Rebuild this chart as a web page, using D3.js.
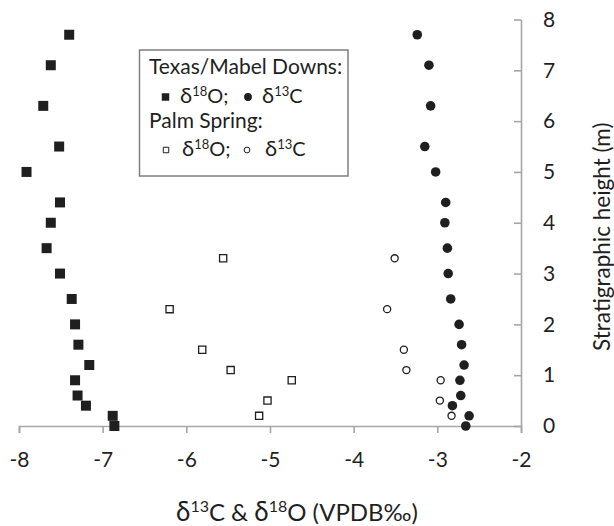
<!DOCTYPE html>
<html>
<head>
<meta charset="utf-8">
<script src="https://cdn.jsdelivr.net/npm/d3@7"></script>
<style>
  body { margin: 0; background: #fff; }
  text { font-family: Lato, "Noto Sans", sans-serif; fill: #1f1f1f; }
</style>
</head>
<body>
<div id="my_isotopechart"></div>
<script>
// Texas / Mabel Downs section
var texasHeight = [7.7, 7.1, 6.3, 5.5, 5.0, 4.4, 4.0, 3.5, 3.0, 2.5, 2.0, 1.6, 1.2, 0.9, 0.6, 0.4, 0.2, 0];
var texasO18 = [-7.40, -7.62, -7.71, -7.52, -7.91, -7.51, -7.62, -7.67, -7.51, -7.37, -7.33, -7.29, -7.16, -7.33, -7.30, -7.20, -6.88, -6.86];
var texasC13 = [-3.24, -3.10, -3.08, -3.15, -3.02, -2.90, -2.91, -2.88, -2.87, -2.84, -2.74, -2.71, -2.68, -2.73, -2.72, -2.82, -2.62, -2.66];

// Palm Spring section
var palmHeight = [3.3, 2.3, 1.5, 1.1, 0.9, 0.5, 0.2];
var palmO18 = [-5.56, -6.20, -5.81, -5.47, -4.74, -5.03, -5.13];
var palmC13 = [-3.51, -3.60, -3.40, -3.37, -2.96, -2.97, -2.83];

var xTicks = [-8, -7, -6, -5, -4, -3, -2];
var yTicks = [0, 1, 2, 3, 4, 5, 6, 7, 8];

var margin = {top: 19.5, right: 93, bottom: 100, left: 19},
    width = 614 - margin.left - margin.right,
    height = 526 - margin.top - margin.bottom;

var axisColor = "#a6a6a6";
var ink = "#1f1f1f";

var svg = d3.select("#my_isotopechart")
  .append("svg")
  .attr("width", width + margin.left + margin.right)
  .attr("height", height + margin.top + margin.bottom)
  .append("g")
  .attr("transform", "translate(" + margin.left + "," + margin.top + ")");

var x = d3.scaleLinear()
  .domain([-8, -2])
  .range([0, width]);

var y = d3.scaleLinear()
  .domain([0, 8])
  .range([height, 0]);

// plain hyphen minus like the original, not the unicode minus
var plain = function(d) { return String(d); };

// X axis (ticks hang below the line)
var gx = svg.append("g")
  .attr("transform", "translate(0," + height + ")")
  .call(d3.axisBottom(x).tickValues(xTicks).tickSize(7).tickPadding(19).tickFormat(plain));
gx.select(".domain").attr("stroke", axisColor).attr("stroke-width", 1.6);
gx.selectAll(".tick line").attr("stroke", axisColor).attr("stroke-width", 1.6);
gx.selectAll(".tick text")
  .attr("font-size", "21px")
  .attr("font-family", "Lato, sans-serif")
  .attr("fill", ink);

// Y axis on the right, ticks pointing into the plot
var gy = svg.append("g")
  .attr("transform", "translate(" + width + ",0)")
  .call(d3.axisRight(y).tickValues(yTicks).tickSizeInner(-7).tickSizeOuter(0).tickPadding(22).tickFormat(plain));
gy.select(".domain").attr("stroke", axisColor).attr("stroke-width", 1.6);
gy.selectAll(".tick line").attr("stroke", axisColor).attr("stroke-width", 1.6);
gy.selectAll(".tick text")
  .attr("font-size", "21px")
  .attr("font-family", "Lato, sans-serif")
  .attr("fill", ink);

// axis titles
var xTitle = svg.append("text")
  .attr("x", 278)
  .attr("y", height + 95)
  .attr("text-anchor", "middle")
  .attr("font-size", "24px");
xTitle.append("tspan").attr("font-size", "26px").text("δ");
xTitle.append("tspan").attr("font-size", "16px").attr("dy", -9).text("13");
xTitle.append("tspan").attr("dy", 9).text("C & ");
xTitle.append("tspan").attr("font-size", "26px").text("δ");
xTitle.append("tspan").attr("font-size", "16px").attr("dy", -9).text("18");
xTitle.append("tspan").attr("dy", 9).text("O (VPDB‰)");

svg.append("text")
  .attr("transform", "translate(" + (width + 89) + "," + (height / 2 + 14) + ") rotate(-90)")
  .attr("text-anchor", "middle")
  .attr("font-size", "22.5px")
  .text("Stratigraphic height (m)");

// points
var symSquare = d3.symbol().type(d3.symbolSquare);
var symCircle = d3.symbol().type(d3.symbolCircle);

svg.selectAll("texasO")
  .data(texasHeight)
  .enter()
  .append("path")
  .attr("transform", function(d, i) { return "translate(" + x(texasO18[i]) + "," + y(d) + ")"; })
  .attr("d", symSquare.size(100)())
  .attr("fill", ink);

svg.selectAll("texasC")
  .data(texasHeight)
  .enter()
  .append("path")
  .attr("transform", function(d, i) { return "translate(" + x(texasC13[i]) + "," + y(d) + ")"; })
  .attr("d", symCircle.size(72)())
  .attr("fill", ink);

svg.selectAll("palmO")
  .data(palmHeight)
  .enter()
  .append("path")
  .attr("transform", function(d, i) { return "translate(" + x(palmO18[i]) + "," + y(d) + ")"; })
  .attr("d", symSquare.size(52)())
  .attr("fill", "#fff")
  .attr("stroke", ink)
  .attr("stroke-width", 1.3);

svg.selectAll("palmC")
  .data(palmHeight)
  .enter()
  .append("path")
  .attr("transform", function(d, i) { return "translate(" + x(palmC13[i]) + "," + y(d) + ")"; })
  .attr("d", symCircle.size(40)())
  .attr("fill", "#fff")
  .attr("stroke", ink)
  .attr("stroke-width", 1.3);

// legend box
var lg = svg.append("g")
  .attr("transform", "translate(" + (139.5 - margin.left) + "," + (50 - margin.top) + ")");

lg.append("rect")
  .attr("width", 208.5)
  .attr("height", 126)
  .attr("fill", "#fff")
  .attr("stroke", "#7f7f7f")
  .attr("stroke-width", 1.5);

function isoLabel(g, px, py, num, el) {
  var t = g.append("text").attr("x", px).attr("y", py).attr("font-size", "20px");
  t.append("tspan").attr("font-size", "22px").text("δ");
  t.append("tspan").attr("font-size", "13px").attr("dy", -7).text(num);
  t.append("tspan").attr("dy", 7).text(el);
  return t;
}

lg.append("text").attr("x", 9.5).attr("y", 24).attr("font-size", "21px").text("Texas/Mabel Downs:");
lg.append("path").attr("transform", "translate(26,47)").attr("d", symSquare.size(56)()).attr("fill", ink);
isoLabel(lg, 40.5, 53, "18", "O;");
lg.append("path").attr("transform", "translate(108.5,47)").attr("d", symCircle.size(48)()).attr("fill", ink);
isoLabel(lg, 122.5, 53, "13", "C");

lg.append("text").attr("x", 9.5).attr("y", 78).attr("font-size", "21px").text("Palm Spring:");
lg.append("path").attr("transform", "translate(26.5,100)").attr("d", symSquare.size(30)())
  .attr("fill", "#fff").attr("stroke", ink).attr("stroke-width", 1);
isoLabel(lg, 42.5, 106, "18", "O;");
lg.append("path").attr("transform", "translate(107.5,100)").attr("d", symCircle.size(26)())
  .attr("fill", "#fff").attr("stroke", ink).attr("stroke-width", 1);
isoLabel(lg, 125.5, 106, "13", "C");
</script>
</body>
</html>
